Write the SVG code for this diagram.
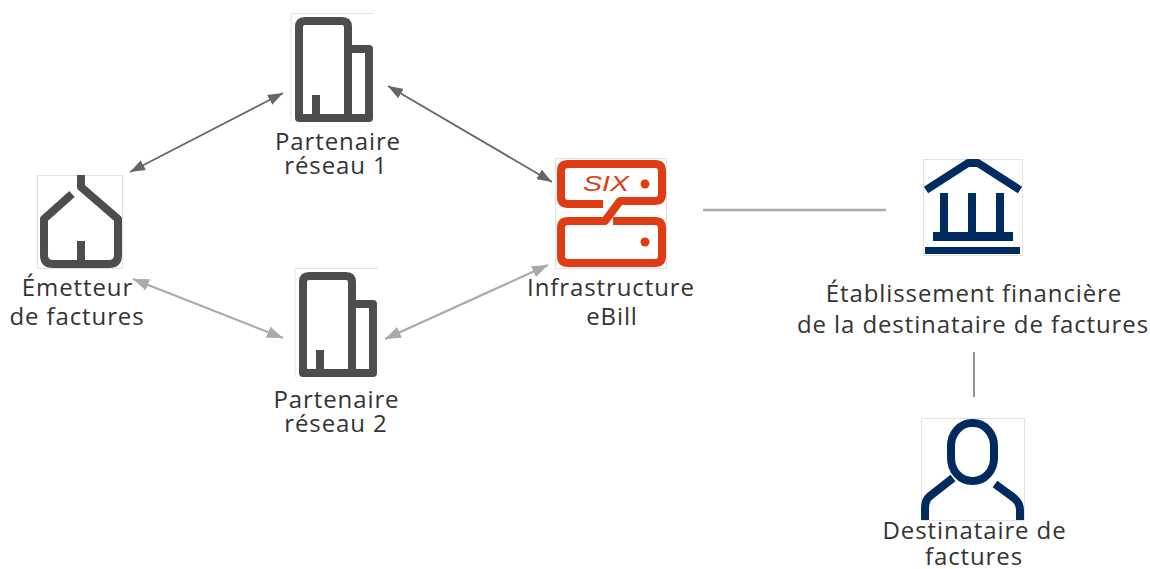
<svg xmlns="http://www.w3.org/2000/svg" width="1150" height="569" viewBox="0 0 1150 569">
<style>
text{font-family:"Open Sans","Noto Sans","Liberation Sans",sans-serif;font-size:24px;letter-spacing:.9px;fill:#333;text-anchor:middle}
.box{fill:#fff;stroke:#e2e2e2;stroke-width:1}
.open{fill:none;stroke:#e2e2e2;stroke-width:1}
.ic{fill:none;stroke-width:8;stroke-linejoin:round}
.gr{stroke:#4d4d4d}
.bl{stroke:#012a5e}
.rd{stroke:#e03c14}
.dk{stroke:#666;stroke-width:1.8;fill:none;marker-start:url(#ad);marker-end:url(#ad)}
.lt{stroke:#aaa;stroke-width:2.2;fill:none;marker-start:url(#al);marker-end:url(#al)}
</style>
<defs>
<marker id="ad" viewBox="0 0 10 10" refX="10" refY="5" markerWidth="15" markerHeight="11" markerUnits="userSpaceOnUse" orient="auto-start-reverse" preserveAspectRatio="none"><path d="M0 0L10 5L0 10z" fill="#666"/></marker>
<marker id="al" viewBox="0 0 10 10" refX="10" refY="5" markerWidth="16" markerHeight="12" markerUnits="userSpaceOnUse" orient="auto-start-reverse" preserveAspectRatio="none"><path d="M0 0L10 5L0 10z" fill="#aaa"/></marker>
</defs>
<rect width="1150" height="569" fill="#fff"/>
<g id="connectors">
<line class="dk" x1="130" y1="172" x2="283" y2="93"/>
<line class="dk" x1="388" y1="86" x2="552" y2="182"/>
<line class="lt" x1="133" y1="279" x2="283" y2="338"/>
<line class="lt" x1="385" y1="339" x2="548" y2="265"/>
<line x1="703" y1="210" x2="886" y2="210" stroke="#aaa" stroke-width="2.5"/>
<line x1="974" y1="352" x2="974" y2="397" stroke="#777" stroke-width="1.6"/>
</g>
<g id="partner1">
<path d="M291 122V13.500H374" class="open"/>
<path class="ic gr" d="M348 118V27Q348 21 342 21H305Q299 21 299 27V118ZM348 49H369V118H348M316 95V118"/>
<text x="338" y="150">Partenaire</text>
<text x="336" y="174">réseau 1</text>
</g>
<g id="partner2">
<path d="M295 377V268.500H378" class="open"/>
<path class="ic gr" d="M352 373V282Q352 276 346 276H309Q303 276 303 282V373ZM352 304H373V373H352M320 350V373"/>
<text x="336.500" y="408">Partenaire</text>
<text x="336" y="432">réseau 2</text>
</g>
<g id="issuer">
<rect class="box" x="37.500" y="175.500" width="85" height="93"/>
<path class="ic gr" d="M81 175V187L118 219V255Q118 264 109 264H53Q44 264 44 255V219L72 194M81 241V264"/>
<text x="77.500" y="296">Émetteur</text>
<text x="77" y="325">de factures</text>
</g>
<g id="infrastructure">
<rect class="box" x="555.500" y="158.500" width="111" height="110"/>
<path class="ic rd" d="M603 204H568Q561 204 561 197V171Q561 164 568 164H655Q662 164 662 171V194Q662 201 655 201H620L605 221H568Q561 221 561 228V256Q561 263 568 263H655Q662 263 662 256V228Q662 221 655 221H613"/>
<circle cx="645" cy="184" r="4.500" fill="#e03c14"/>
<circle cx="645" cy="242" r="4.500" fill="#e03c14"/>
<text x="606" y="191" textLength="46" lengthAdjust="spacingAndGlyphs" style="font-family:'Liberation Sans',sans-serif;font-style:italic;font-size:22px;letter-spacing:0;fill:#e03c14">SIX</text>
<text x="611" y="296">Infrastructure</text>
<text x="612" y="325">eBill</text>
</g>
<g id="bank">
<rect class="box" x="923.500" y="159.500" width="99" height="96"/>
<path class="ic bl" d="M926 190L968 163H978L1020 190M944 193V232M972 193V232M1000 193V232"/>
<rect x="933" y="232" width="80" height="9" fill="#012a5e"/>
<rect x="925" y="247" width="95" height="7" fill="#012a5e"/>
<text x="974" y="302">Établissement financière</text>
<text x="973" y="333">de la destinataire de factures</text>
</g>
<g id="recipient">
<rect class="box" x="921.500" y="418.500" width="103" height="102"/>
<rect class="ic bl" x="951" y="423" width="43" height="58" rx="21" ry="23"/>
<path class="ic bl" d="M953 478L930 496Q925 500 925 508V520M995 484L1014 498Q1020 503 1020 510V520"/>
<text x="974.500" y="539">Destinataire de</text>
<text x="974" y="565">factures</text>
</g>
</svg>
